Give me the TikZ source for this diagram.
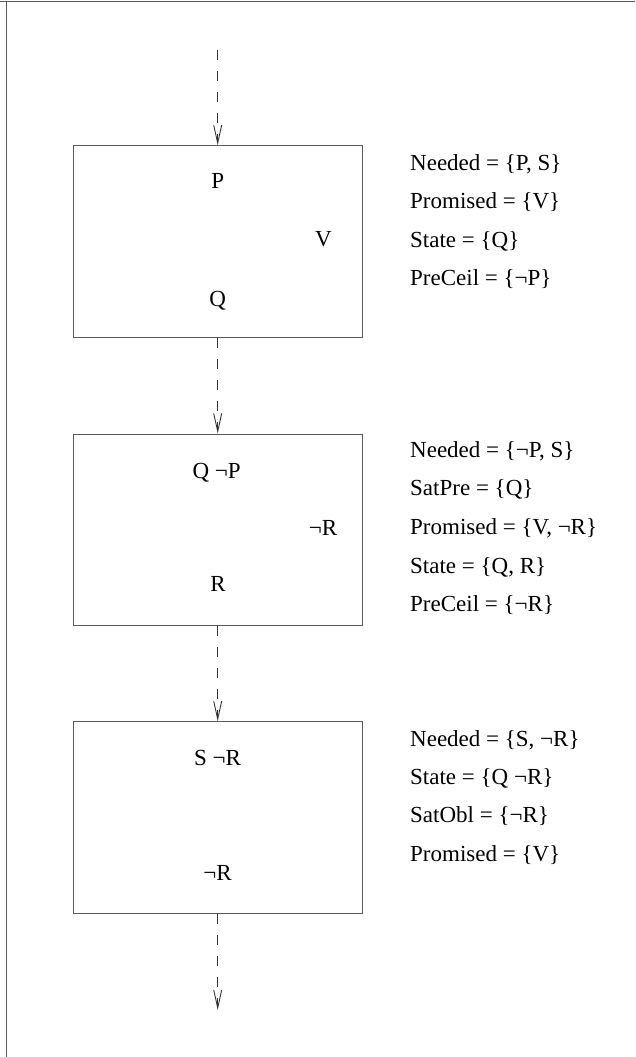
\documentclass[tikz,border=0pt]{standalone}
\usepackage{fontspec}
\setmainfont{Liberation Serif}
\usetikzlibrary{arrows.meta}
\begin{document}
\begin{tikzpicture}[x=1pt,y=-1pt,
  every node/.style={font=\fontsize{23}{27}\selectfont, inner sep=0pt},
  frame/.style={draw=black!65, line width=1pt},
  stepbox/.style={draw=black!65, line width=1pt, rectangle,
    minimum width=288.7pt, minimum height=191.6pt},
  flow/.style={draw=black!80, line width=0.9pt, dash pattern=on 10pt off 11pt,
    -{Straight Barb[length=18pt,width=8pt,line width=0.9pt]}},
  lbl/.style={anchor=base},
  info/.style={anchor=base west}]
\useasboundingbox (0,0) rectangle (635,1057);
% partial outer frame
\draw[frame] (0,1.5) -- (635,1.5);
\draw[frame] (6,1.5) -- (6,1057);

% the three steps
\node[stepbox] (b1) at (217.7,241.5) {};
\node[stepbox] (b2) at (217.7,529.8) {};
\node[stepbox] (b3) at (217.7,817.5) {};

% flow between steps
\coordinate (s0) at (217.7,50);
\coordinate (e3) at (217.7,1010);
\draw[flow] (s0) -- (b1.north);
\draw[flow] (b1.south) -- (b2.north);
\draw[flow] (b2.south) -- (b3.north);
\draw[flow] (b3.south) -- (e3);

% contents of step 1
\node[lbl] (p1) at (217.7,188) {P};
\node[lbl] (v1) at (323.5,246.7) {V};
\node[lbl] (q1) at (217.7,306.7) {Q};
% contents of step 2
\node[lbl] (qp2) at (216.7,478) {Q ¬P};
\node[lbl] (nr2) at (323,535) {¬R};
\node[lbl] (r2) at (218,591.7) {R};
% contents of step 3
\node[lbl] (sr3) at (217.5,765) {S ¬R};
\node[lbl] (nr3) at (217.5,880) {¬R};

% annotations of step 1
\node[info] (a11) at (410,170) {Needed = \{P, S\}};
\node[info] (a12) at (410,208.6) {Promised = \{V\}};
\node[info] (a13) at (410,247.2) {State = \{Q\}};
\node[info] (a14) at (410,285.8) {PreCeil = \{¬P\}};
% annotations of step 2
\node[info] (a21) at (410,457) {Needed = \{¬P, S\}};
\node[info] (a22) at (410,495.7) {SatPre = \{Q\}};
\node[info] (a23) at (410,534.4) {Promised = \{V, ¬R\}};
\node[info] (a24) at (410,573.1) {State = \{Q, R\}};
\node[info] (a25) at (410,611.8) {PreCeil = \{¬R\}};
% annotations of step 3
\node[info] (a31) at (410,746) {Needed = \{S, ¬R\}};
\node[info] (a32) at (410,784.4) {State = \{Q ¬R\}};
\node[info] (a33) at (410,822.8) {SatObl = \{¬R\}};
\node[info] (a34) at (410,861.2) {Promised = \{V\}};
\end{tikzpicture}
\end{document}
